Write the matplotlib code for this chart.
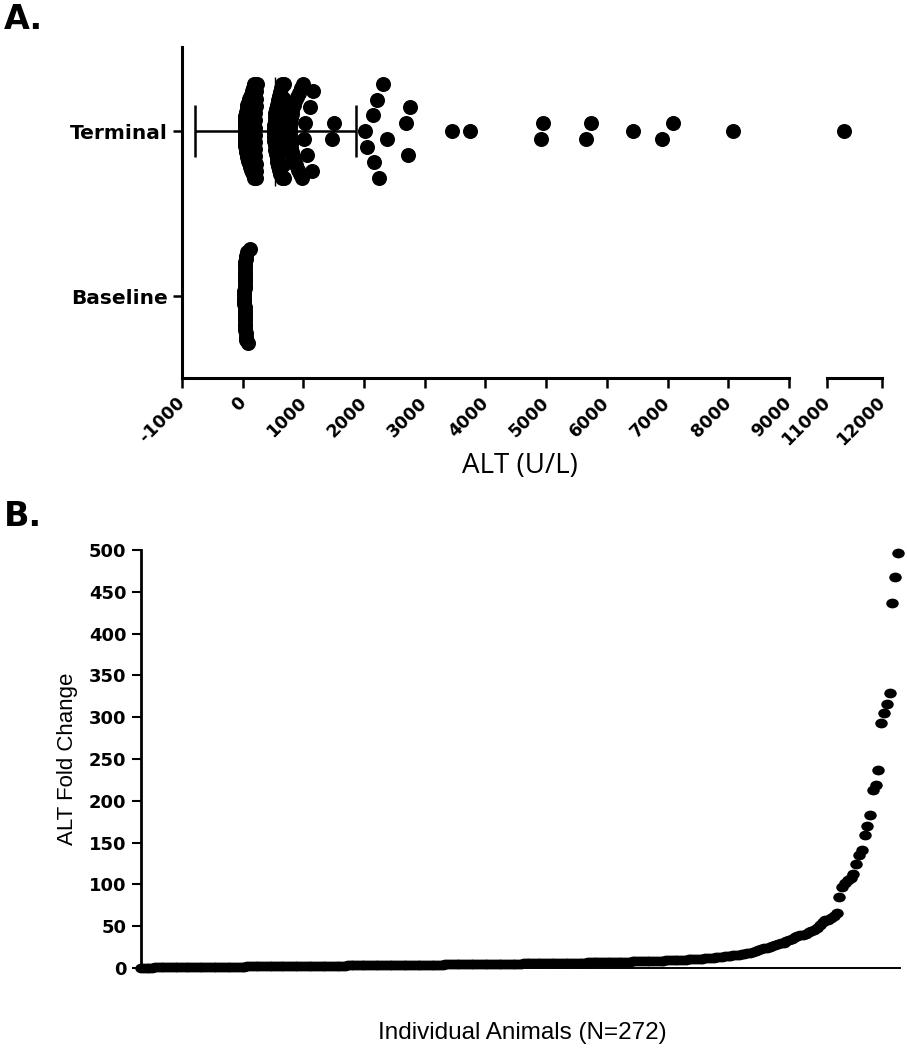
import numpy as np
import matplotlib
matplotlib.use('Agg')
import matplotlib.pyplot as plt
from matplotlib.path import Path
from matplotlib.transforms import Affine2D

# ---- Panel A: ALT (U/L), baseline vs terminal ----
group_labels = ['Baseline', 'Terminal']

baseline_alt = [25, 26, 27, 28, 29, 30, 31, 32, 33, 34, 35, 36, 37, 38, 39,
                40, 41, 42, 43, 44, 45, 46, 48, 50, 52, 55, 60, 70, 85, 120]

terminal_alt = [
    # dense cluster below ~250
    30, 30, 30, 31, 31, 32, 33, 33, 35, 36, 37, 39, 41, 43, 45, 48, 51, 53,
    56, 60, 63, 67, 70, 75, 79, 84, 88, 93, 98, 104, 109, 115, 121, 127, 133,
    140, 147, 154, 161, 167, 173, 179, 184, 187, 190,
    198, 200, 202, 204, 206, 208, 210, 212, 214, 216, 218, 220, 224, 228,
    # second band
    515, 516, 517, 519, 521, 524, 527, 531, 535, 540, 545, 551, 557, 563,
    570, 578, 586, 594, 603, 612, 621, 631, 641, 645,
    650, 654, 658, 662, 666, 670, 675, 680,
    # third band
    780, 781, 782, 784, 787, 790, 794, 799, 805, 812, 820, 829, 839, 850,
    862, 875, 889, 904, 920, 937, 955, 972, 990,
    1005, 1020, 1060, 1110, 1140, 1160,
    # sparse tail
    1470, 1500, 2010, 2050, 2150, 2170, 2215, 2240, 2306, 2370, 2690,
    2720, 2750, 3450, 3750, 4920, 4950, 5660, 5740, 6430, 6900, 7090, 8080,
    11310,
]
terminal_mean = 540
terminal_sd = 1330

main_ticks = [-1000, 0, 1000, 2000, 3000, 4000, 5000, 6000, 7000, 8000, 9000]
break_ticks = [11000, 12000]

# ---- Panel B: fold change per animal, sorted ----
fold_change = [
    0.2, 0.3, 0.4, 0.5, 0.5, 0.6, 0.6, 0.7, 0.7, 0.8, 0.8, 0.8, 0.9, 0.9, 1.0, 1.0, 1.0, 1.1, 1.1, 1.1,
    1.2, 1.2, 1.2, 1.3, 1.3, 1.3, 1.4, 1.4, 1.4, 1.5, 1.5, 1.5, 1.6, 1.6, 1.6, 1.7, 1.7, 1.7, 1.8, 1.8,
    1.8, 1.9, 1.9, 1.9, 2.0, 2.0, 2.0, 2.1, 2.1, 2.1, 2.2, 2.2, 2.2, 2.3, 2.3, 2.3, 2.4, 2.4, 2.4, 2.5,
    2.5, 2.5, 2.6, 2.6, 2.6, 2.7, 2.7, 2.7, 2.8, 2.8, 2.8, 2.9, 2.9, 2.9, 3.0, 3.0, 3.0, 3.1, 3.1, 3.1,
    3.2, 3.2, 3.2, 3.3, 3.3, 3.3, 3.4, 3.4, 3.4, 3.5, 3.5, 3.5, 3.6, 3.6, 3.6, 3.7, 3.7, 3.7, 3.8, 3.8,
    3.8, 3.9, 3.9, 4.0, 4.0, 4.0, 4.1, 4.1, 4.1, 4.2, 4.2, 4.3, 4.3, 4.3, 4.4, 4.4, 4.5, 4.5, 4.5, 4.6,
    4.6, 4.7, 4.7, 4.7, 4.8, 4.8, 4.9, 4.9, 5.0, 5.0, 5.0, 5.1, 5.1, 5.2, 5.2, 5.3, 5.3, 5.4, 5.4, 5.5,
    5.5, 5.6, 5.6, 5.7, 5.7, 5.8, 5.8, 5.9, 5.9, 6.0, 6.0, 6.1, 6.1, 6.2, 6.2, 6.3, 6.4, 6.4, 6.5, 6.5,
    6.6, 6.7, 6.7, 6.8, 6.9, 6.9, 7.0, 7.1, 7.1, 7.2, 7.3, 7.4, 7.4, 7.5, 7.6, 7.7, 7.8, 7.9, 8.0, 8.1,
    8.2, 8.3, 8.4, 8.5, 8.6, 8.7, 8.8, 8.9, 9.0, 9.2, 9.3, 9.4, 9.6, 9.7, 9.9, 10.0, 10.2, 10.4, 10.6, 10.8,
    11.0, 11.2, 11.4, 11.7, 12.0, 12.3, 12.6, 13.0, 13.4, 13.8, 14.2, 14.6, 15.0, 15.5, 16.0, 16.5, 17.0, 17.8, 18.5, 19.5,
    20.5, 21.5, 22.5, 23.5, 24.5, 25.5, 26.5, 27.5, 28.5, 29.5, 30.5, 32, 33.5, 35, 36.5, 38, 39, 40, 41, 42.5,
    44, 46, 48, 52, 55, 57, 58, 60, 62, 66, 85, 97, 102, 105, 108, 113, 125, 135, 141, 159,
    170, 183, 213, 219, 237, 293, 305, 316, 329, 437, 468, 496,
]
fold_ticks = [0, 50, 100, 150, 200, 250, 300, 350, 400, 450, 500]

# value bins used to spread the dots vertically (GraphPad style)
swarm_edges = [-50, 195, 350, 648, 750, 995, 1200] + list(range(1560, 12400, 400))


def swarm_offsets(values, edges=swarm_edges, step=0.097, half_width=0.285):
    # smallest value of a bin in the middle, then alternate below/above,
    # squeezing crowded bins into the available height
    values = np.asarray(values, dtype=float)
    offsets = np.zeros(len(values))
    bins = np.digitize(values, edges)
    for b in np.unique(bins):
        idx = np.where(bins == b)[0]
        idx = idx[np.argsort(values[idx], kind='stable')]
        n = len(idx)
        d = step if n < 2 else min(step, 2 * half_width / (n - 1))
        if n % 2:
            slots = [0] + [s for k in range(1, n // 2 + 1) for s in (-k, k)]
        else:
            slots = [s for k in range(n // 2) for s in (-(k + 0.5), k + 0.5)]
        offsets[idx] = np.array(slots[:n]) * d
    return offsets


W, H = 907, 1050
fig = plt.figure(figsize=(W / 100, H / 100), dpi=100)

bold = dict(family='DejaVu Sans', weight='bold')

# panel A axes (broken x axis)
a_bottom, a_top = 377.7, 47
axA = fig.add_axes([182 / W, 1 - a_bottom / H, (789 - 182) / W, (a_bottom - a_top) / H])
axA2 = fig.add_axes([827 / W, 1 - a_bottom / H, (882 - 827) / W, (a_bottom - a_top) / H])

for k, vals in enumerate([baseline_alt, terminal_alt]):
    vals = np.asarray(vals, dtype=float)
    ys = k + swarm_offsets(vals)
    left = vals <= 9000
    axA.scatter(vals[left], ys[left], s=117, color='black', linewidths=0,
                zorder=3, clip_on=False)
    axA2.scatter(vals[~left], ys[~left], s=117, color='black', linewidths=0,
                 zorder=3, clip_on=False)

axA.errorbar(terminal_mean, 1, xerr=terminal_sd, fmt='none', ecolor='black',
             elinewidth=1.8, capsize=19, capthick=1.8, zorder=4)
axA.vlines(terminal_mean, 1 - 0.33, 1 + 0.33, color='black', lw=1.0, zorder=2)

for ax in (axA, axA2):
    ax.set_ylim(-0.495, 1.51)
    ax.spines['top'].set_visible(False)
    ax.spines['right'].set_visible(False)
    ax.spines['bottom'].set_linewidth(2.2)
    ax.tick_params(axis='x', length=7, width=1.8, pad=9, labelsize=12.5)

axA.set_xlim(-1000, 9000)
axA.set_xticks(main_ticks, labels=[str(t) for t in main_ticks])
axA.set_yticks([0, 1], labels=group_labels)
axA.spines['left'].set_linewidth(2.2)
axA.tick_params(axis='y', length=6.5, width=1.8, pad=4, labelsize=14.5)

axA2.set_xlim(11000, 12000)
axA2.set_xticks(break_ticks, labels=[str(t) for t in break_ticks])
axA2.spines['left'].set_visible(False)
axA2.tick_params(axis='y', left=False, labelleft=False)

for ax in (axA, axA2):
    for lbl in ax.get_xticklabels() + ax.get_yticklabels():
        lbl.set_fontfamily('DejaVu Sans')
        lbl.set_fontweight('bold')
    for lbl in ax.get_xticklabels():
        lbl.set_rotation(45)
        lbl.set_ha('right')
        lbl.set_va('center')
        lbl.set_rotation_mode('anchor')

fig.text(520 / W, 1 - 466 / H, 'ALT (U/L)', ha='center', va='center',
         fontsize=20, family='Open Sans')

# panel B axes
axB = fig.add_axes([141 / W, 1 - 968 / H, (900 - 141) / W, (968 - 550) / H])
ellipse = Path.unit_circle().transformed(Affine2D().scale(1.28, 1.0))
animal = np.arange(1, len(fold_change) + 1)
axB.plot(animal, fold_change, linestyle='none', marker=ellipse, markersize=9,
         color='black', markeredgewidth=0, clip_on=False, zorder=3)
axB.set_xlim(1, 272.7)
axB.set_ylim(0, 500)
axB.set_yticks(fold_ticks)
axB.set_xticks([])
axB.spines['top'].set_visible(False)
axB.spines['right'].set_visible(False)
axB.spines['left'].set_linewidth(2.0)
axB.spines['bottom'].set_linewidth(1.4)
axB.tick_params(axis='y', length=6.5, width=1.5, pad=4, labelsize=13)
for lbl in axB.get_yticklabels():
    lbl.set_fontfamily('DejaVu Sans')
    lbl.set_fontweight('bold')

fig.text(68 / W, 1 - 759 / H, 'ALT Fold Change', rotation=90, ha='center',
         va='center', fontsize=16, family='Liberation Sans')
fig.text(522 / W, 1 - 1033 / H, 'Individual Animals (N=272)', ha='center',
         va='center', fontsize=17.5, family='Liberation Sans')

fig.text(4 / W, 1 - 3 / H, 'A.', ha='left', va='top', fontsize=24, **bold)
fig.text(4 / W, 1 - 500 / H, 'B.', ha='left', va='top', fontsize=24, **bold)

fig.savefig('out.png', dpi=100)
